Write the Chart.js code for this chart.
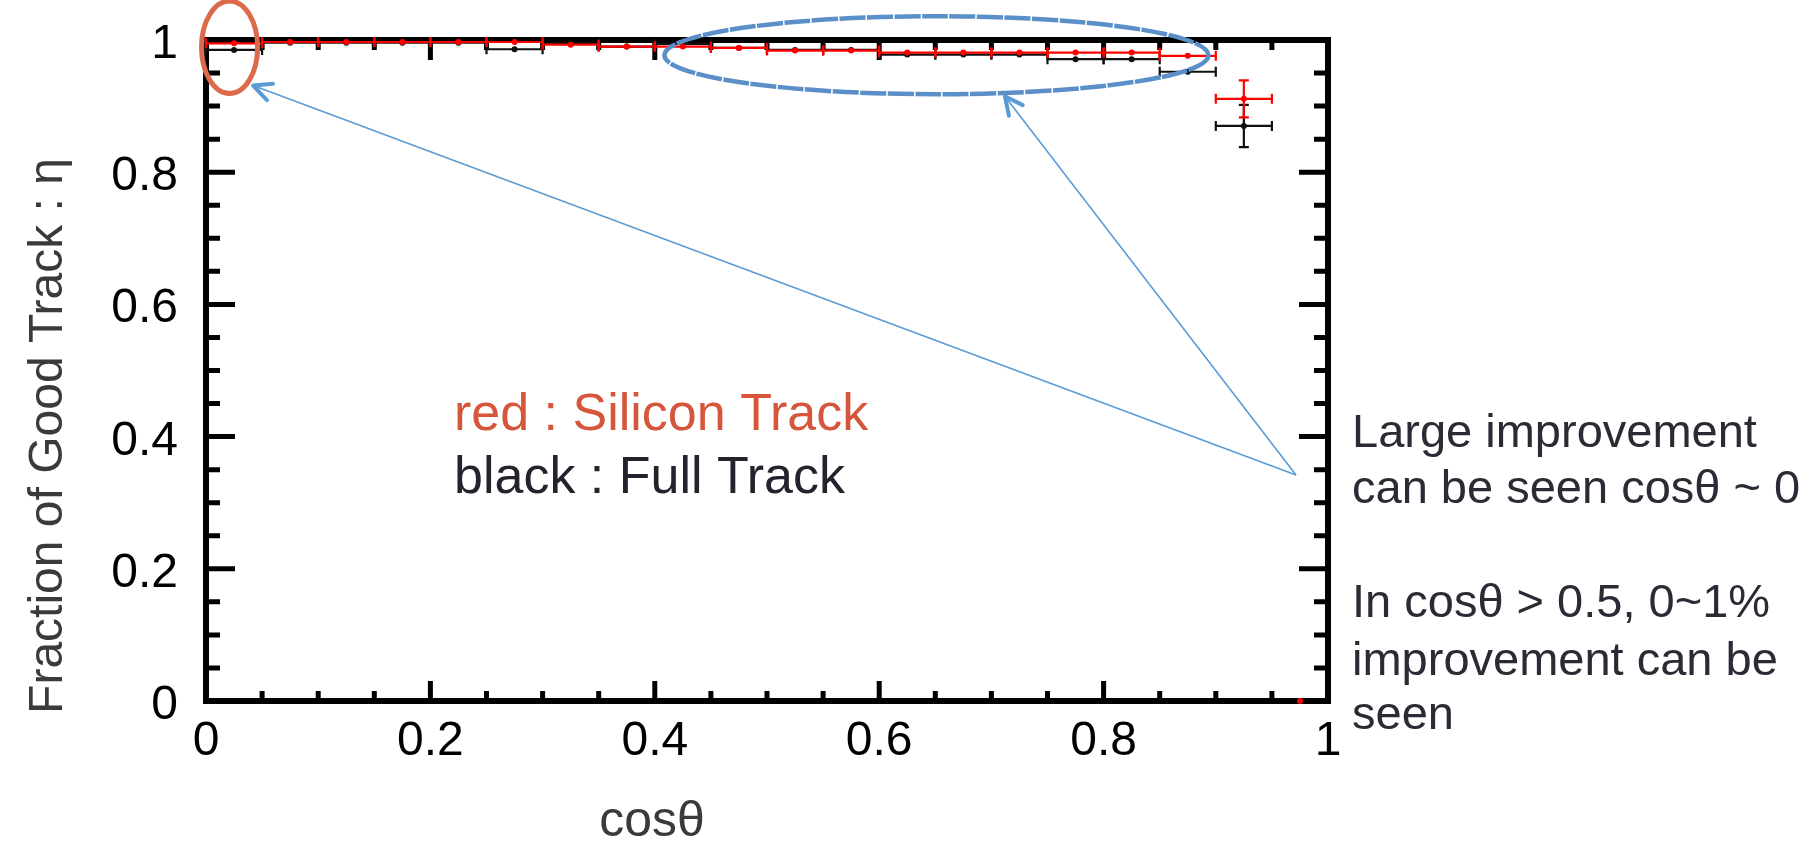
<!DOCTYPE html>
<html>
<head>
<meta charset="utf-8">
<script src="https://cdn.jsdelivr.net/npm/chart.js@4.4.0/dist/chart.umd.min.js"></script>
<style>
  html, body { margin: 0; padding: 0; background: #fff; }
  #wrap { width: 1811px; height: 844px; }
</style>
</head>
<body>
<div id="wrap"><canvas id="eff" width="1811" height="844"></canvas></div>
<script>
// cos(theta) bins, 0.05 wide
const binCenters = [0.025, 0.075, 0.125, 0.175, 0.225, 0.275, 0.325, 0.375, 0.425, 0.475,
                    0.525, 0.575, 0.625, 0.675, 0.725, 0.775, 0.825, 0.875, 0.925, 0.975];
const binHalfWidth = 0.025;

// silicon track efficiency (red)
const siliconEff = [0.995, 0.997, 0.997, 0.997, 0.997, 0.997, 0.993, 0.990, 0.990, 0.988,
                    0.984, 0.984, 0.981, 0.981, 0.981, 0.981, 0.981, 0.976, 0.911, 0];
const siliconErr = [0.001, 0.001, 0.001, 0.001, 0.001, 0.001, 0.001, 0.001, 0.001, 0.001,
                    0.001, 0.001, 0.002, 0.002, 0.002, 0.002, 0.002, 0.003, 0.028, 0];

// full track efficiency (black)
const fullEff = [0.985, 0.996, 0.996, 0.996, 0.996, 0.986, 0.995, 0.990, 0.994, 0.988,
                 0.985, 0.985, 0.978, 0.978, 0.978, 0.971, 0.971, 0.952, 0.870, 0];
const fullErr = [0.001, 0.001, 0.001, 0.001, 0.001, 0.001, 0.001, 0.001, 0.001, 0.001,
                 0.001, 0.001, 0.002, 0.002, 0.002, 0.002, 0.002, 0.004, 0.032, 0];

const xTicks = [0, 0.2, 0.4, 0.6, 0.8, 1];
const xTickLabels = ['0', '0.2', '0.4', '0.6', '0.8', '1'];
const yTicks = [0, 0.2, 0.4, 0.6, 0.8, 1];
const yTickLabels = ['0', '0.2', '0.4', '0.6', '0.8', '1'];
const minorStep = 0.05;

const FONT = "'Liberation Sans', Arial, Helvetica, sans-serif";

const toPoints = (ys) => binCenters.map((x, i) => ({ x, y: ys[i] }));

// frame with inward ticks on all four sides, plus tick labels and titles
const framePlugin = {
    id: 'frame',
    beforeDatasetsDraw(chart) {
        const { ctx, chartArea: a, scales: { x, y } } = chart;
        ctx.save();
        ctx.strokeStyle = '#000';
        ctx.lineCap = 'butt';

        // ticks
        ctx.lineWidth = 5;
        for (let k = 0; k <= 20; k++) {
            const v = k * minorStep;
            const major = k % 4 === 0;
            const px = x.getPixelForValue(v);
            const py = y.getPixelForValue(v);
            const lx = major ? 20 : 10;
            const ly = major ? 29 : 14;
            ctx.beginPath();
            ctx.moveTo(px, a.bottom); ctx.lineTo(px, a.bottom - lx);
            ctx.moveTo(px, a.top); ctx.lineTo(px, a.top + lx);
            ctx.moveTo(a.left, py); ctx.lineTo(a.left + ly, py);
            ctx.moveTo(a.right, py); ctx.lineTo(a.right - ly, py);
            ctx.stroke();
        }

        ctx.lineWidth = 6;
        ctx.lineJoin = 'miter';
        ctx.strokeRect(a.left, a.top, a.right - a.left, a.bottom - a.top);

        // tick labels
        ctx.fillStyle = '#000';
        ctx.font = `48px ${FONT}`;
        ctx.textAlign = 'center';
        ctx.textBaseline = 'alphabetic';
        xTicks.forEach((v, i) => {
            ctx.fillText(xTickLabels[i], x.getPixelForValue(v), 755);
        });
        ctx.textAlign = 'right';
        yTicks.forEach((v, i) => {
            ctx.fillText(yTickLabels[i], 178, y.getPixelForValue(v) + 18);
        });

        // axis titles
        ctx.fillStyle = '#3a3a3a';
        ctx.font = `50px ${FONT}`;
        ctx.textAlign = 'center';
        ctx.fillText('cosθ', 652, 836);

        ctx.save();
        ctx.translate(62, 436);
        ctx.rotate(-Math.PI / 2);
        ctx.font = `48px ${FONT}`;
        ctx.fillText('Fraction of Good Track : η', 0, 0);
        ctx.restore();

        ctx.restore();
    },
};

// bin-width and statistical error bars, black under red
const errorBarPlugin = {
    id: 'errorBars',
    beforeDatasetsDraw(chart) {
        const { ctx, scales: { x, y } } = chart;
        const sets = [
            { vals: fullEff, errs: fullErr, color: '#111' },
            { vals: siliconEff, errs: siliconErr, color: '#ff0000' },
        ];
        ctx.save();
        ctx.lineWidth = 2.2;
        sets.forEach(({ vals, errs, color }) => {
            ctx.strokeStyle = color;
            binCenters.forEach((c, i) => {
                if (vals[i] <= 0) return;
                const x0 = x.getPixelForValue(c - binHalfWidth);
                const x1 = x.getPixelForValue(c + binHalfWidth);
                const xc = x.getPixelForValue(c);
                const yc = y.getPixelForValue(vals[i]);
                const yLo = y.getPixelForValue(vals[i] - errs[i]);
                const yHi = y.getPixelForValue(vals[i] + errs[i]);
                ctx.beginPath();
                ctx.moveTo(x0, yc); ctx.lineTo(x1, yc);
                ctx.moveTo(x0, yc - 5); ctx.lineTo(x0, yc + 5);
                ctx.moveTo(x1, yc - 5); ctx.lineTo(x1, yc + 5);
                ctx.moveTo(xc, yLo); ctx.lineTo(xc, yHi);
                if (yLo - yHi > 8) {
                    ctx.moveTo(xc - 5, yLo); ctx.lineTo(xc + 5, yLo);
                    ctx.moveTo(xc - 5, yHi); ctx.lineTo(xc + 5, yHi);
                }
                ctx.stroke();
            });
        });
        ctx.restore();
    },
};

// callouts: ellipses, arrows and notes
const calloutPlugin = {
    id: 'callouts',
    afterDraw(chart) {
        const { ctx, scales: { x, y } } = chart;
        const px = (v) => x.getPixelForValue(v);
        const py = (v) => y.getPixelForValue(v);
        ctx.save();

        const ellipse = (cx, cy, rx, ry) => {
            const X = px(cx), Y = py(cy);
            ctx.beginPath();
            ctx.ellipse(X, Y, px(cx + rx) - X, Y - py(cy + ry), 0, 0, Math.PI * 2);
            ctx.stroke();
        };

        ctx.strokeStyle = '#dc6a4c';
        ctx.lineWidth = 5;
        ellipse(0.021, 0.989, 0.025, 0.07);

        ctx.strokeStyle = '#5b8fc8';
        ctx.lineWidth = 4.5;
        ctx.setLineDash([26, 1.5]);
        ellipse(0.651, 0.977, 0.2424, 0.059);
        ctx.setLineDash([]);

        const arrow = (sx, sy, tx, ty) => {
            const X0 = px(sx), Y0 = py(sy), X1 = px(tx), Y1 = py(ty);
            ctx.strokeStyle = '#5b9bd5';
            ctx.lineWidth = 1.6;
            ctx.beginPath();
            ctx.moveTo(X0, Y0); ctx.lineTo(X1, Y1);
            ctx.stroke();
            const ang = Math.atan2(Y0 - Y1, X0 - X1);
            ctx.lineWidth = 4;
            ctx.lineCap = 'round';
            ctx.beginPath();
            [-0.45, 0.45].forEach((d) => {
                ctx.moveTo(X1, Y1);
                ctx.lineTo(X1 + 20 * Math.cos(ang + d), Y1 + 20 * Math.sin(ang + d));
            });
            ctx.stroke();
            ctx.lineCap = 'butt';
        };
        arrow(0.9715, 0.342, 0.042, 0.931);
        arrow(0.9715, 0.342, 0.712, 0.915);

        ctx.textAlign = 'left';
        ctx.textBaseline = 'alphabetic';
        ctx.font = `52px ${FONT}`;
        ctx.fillStyle = '#d6563b';
        ctx.fillText('red : Silicon Track', 454, 430);
        ctx.fillStyle = '#23232d';
        ctx.fillText('black : Full Track', 454, 493);

        ctx.font = `47px ${FONT}`;
        ctx.fillStyle = '#2b2b35';
        const notes = [
            ['Large improvement', 447],
            ['can be seen cosθ ~ 0', 503],
            ['In cosθ > 0.5, 0~1%', 617],
            ['improvement can be', 675],
            ['seen', 729],
        ];
        notes.forEach(([t, b]) => ctx.fillText(t, 1352, b));

        ctx.restore();
    },
};

new Chart(document.getElementById('eff').getContext('2d'), {
    type: 'scatter',
    data: {
        datasets: [
            {
                label: 'red : Silicon Track',
                data: toPoints(siliconEff),
                backgroundColor: '#ff0000',
                borderColor: '#ff0000',
                pointRadius: 3,
                pointBorderWidth: 0,
                clip: false,
            },
            {
                label: 'black : Full Track',
                data: toPoints(fullEff),
                backgroundColor: '#111',
                borderColor: '#111',
                pointRadius: 3,
                pointBorderWidth: 0,
                clip: false,
            },
        ],
    },
    options: {
        responsive: false,
        animation: false,
        events: [],
        layout: { padding: { left: 206, right: 483, top: 40, bottom: 143 } },
        plugins: { legend: { display: false }, tooltip: { enabled: false } },
        scales: {
            x: { type: 'linear', min: 0, max: 1, display: false },
            y: { type: 'linear', min: 0, max: 1, display: false },
        },
    },
    plugins: [framePlugin, errorBarPlugin, calloutPlugin],
});
</script>
</body>
</html>
